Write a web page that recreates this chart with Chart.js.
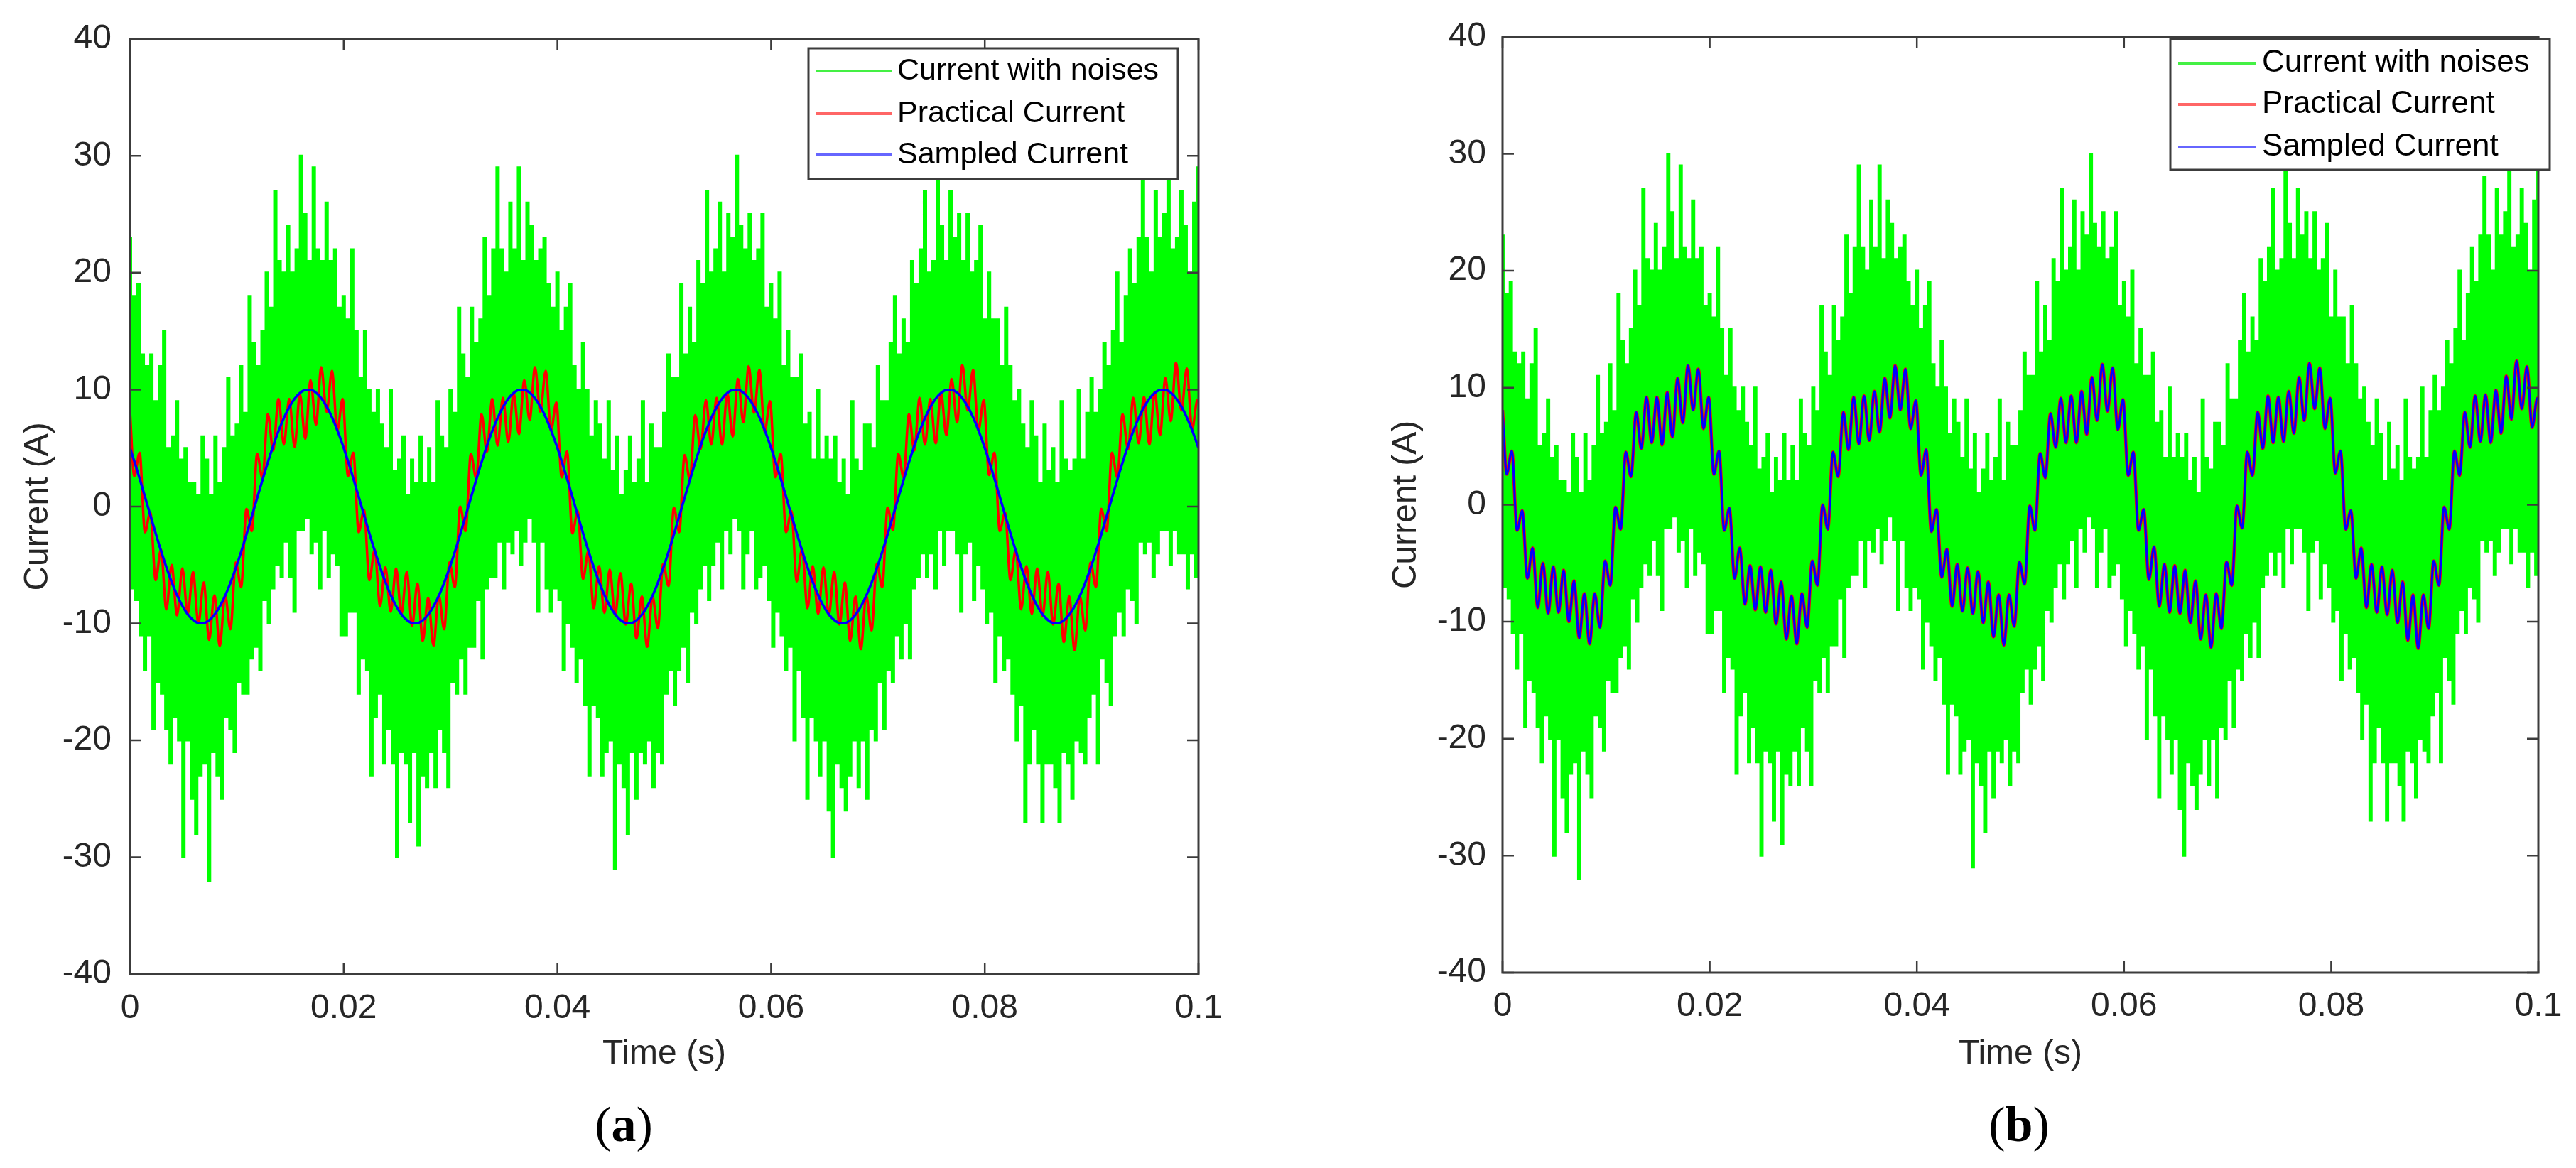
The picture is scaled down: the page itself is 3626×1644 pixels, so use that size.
<!DOCTYPE html>
<html>
<head>
<meta charset="utf-8">
<script src="https://cdn.jsdelivr.net/npm/chart.js@4/dist/chart.umd.min.js"></script>
<style>
  html, body { margin: 0; padding: 0; background: #fff; width: 3626px; height: 1644px; overflow: hidden; }
  canvas { position: absolute; top: 0; }
  #chartA { left: 0; }
  #chartB { left: 1800px; }
  .panel { position: absolute; top: 1543px; width: 200px; text-align: center; line-height: 80px;
           font-family: 'Liberation Serif', 'Times New Roman', serif; font-size: 70px; color: #000; }
  .panel b { font-weight: bold; }
</style>
</head>
<body>
<canvas id="chartA" width="1800" height="1644"></canvas>
<canvas id="chartB" width="1826" height="1644"></canvas>
<div class="panel" style="left:778px">(<b>a</b>)</div>
<div class="panel" style="left:2742px">(<b>b</b>)</div>
<script>
// ---------------- data ----------------
const X_TICK_VALUES = [0, 0.02, 0.04, 0.06, 0.08, 0.1];
const X_TICK_LABELS = ['0', '0.02', '0.04', '0.06', '0.08', '0.1'];
const Y_TICK_VALUES = [-40, -30, -20, -10, 0, 10, 20, 30, 40];
const Y_TICK_LABELS = ['-40', '-30', '-20', '-10', '0', '10', '20', '30', '40'];
const SERIES_NAMES = ['Current with noises', 'Practical Current', 'Sampled Current'];
const X_TITLE = 'Time (s)';
const Y_TITLE = 'Current (A)';

// noisy current, one sample every 0.2 ms from t = 0 to t = 0.1 s
const NOISE_DT = 0.0002;
const currentWithNoises = [
23,-7,18,-8,19,-11,13,-14,12,-11,
13,-19,9,-15,12,-16,15,-19,5,-22,
6,-18,9,-20,4,-30,5,-20,2,-25,
2,-28,1,-23,6,-22,4,-32,1,-21,
6,-23,2,-25,5,-18,11,-19,6,-21,
7,-15,12,-16,8,-16,18,-13,14,-12,
12,-14,15,-8,20,-10,17,-7,27,-5,
21,-6,20,-3,24,-6,20,-9,22,-2,
30,-2,25,-1,21,-4,29,-3,22,-7,
21,-2,26,-6,21,-4,22,-5,17,-11,
18,-11,16,-9,22,-9,15,-16,11,-13,
15,-14,10,-23,8,-18,10,-16,7,-22,
5,-19,10,-22,3,-30,4,-21,6,-22,
1,-27,4,-21,2,-29,6,-23,2,-24,
5,-21,2,-24,9,-19,6,-21,5,-24,
10,-15,8,-16,17,-13,13,-16,11,-12,
17,-12,14,-8,16,-13,23,-7,18,-6,
22,-6,29,-3,22,-7,20,-3,26,-4,
22,-2,29,-5,21,-3,26,-1,24,-3,
21,-9,22,-3,23,-7,19,-9,17,-7,
20,-8,15,-14,17,-10,19,-12,12,-15,
10,-13,14,-17,10,-23,6,-17,9,-18,
7,-23,4,-21,9,-20,3,-31,6,-22,
1,-24,3,-28,6,-21,2,-25,4,-21,
9,-22,2,-20,7,-24,5,-21,5,-22,
8,-16,13,-14,11,-17,11,-14,19,-12,
13,-15,17,-9,14,-10,21,-7,19,-5,
27,-8,20,-5,22,-3,26,-7,20,-2,
25,-4,23,-1,30,-2,24,-7,22,-4,
25,-2,21,-7,22,-6,25,-5,17,-8,
19,-12,16,-9,20,-11,12,-14,15,-12,
11,-20,11,-14,13,-18,7,-25,8,-18,
4,-20,10,-23,4,-20,6,-26,4,-30,
6,-22,2,-24,4,-26,1,-23,9,-20,
4,-24,3,-20,7,-25,7,-19,5,-20,
12,-15,9,-19,9,-14,14,-15,18,-11,
13,-13,16,-10,14,-13,21,-7,19,-6,
22,-4,27,-6,20,-4,21,-7,29,-2,
24,-5,21,-2,27,-2,23,-4,25,-9,
21,-4,25,-3,20,-8,21,-5,24,-7,
16,-10,20,-9,16,-15,16,-11,12,-14,
17,-13,12,-16,9,-20,10,-17,7,-27,
5,-22,9,-19,6,-22,2,-27,7,-22,
3,-22,5,-24,2,-27,9,-21,4,-22,
3,-25,4,-20,10,-21,4,-22,8,-18,
11,-16,8,-22,10,-13,14,-15,12,-17,
15,-11,20,-9,14,-11,18,-7,22,-8,
19,-10,23,-3,28,-4,23,-3,20,-6,
27,-4,23,-2,25,-2,30,-5,22,-2,
23,-4,27,-4,24,-7,20,-4,26,-6,
29
];

// practical / sampled currents: value at t = 0, then at 0.4 ms + k*0.5 ms (ripple extrema), then at t = 0.1 s
const RIPPLE_T0 = 0.0004;
const RIPPLE_DT = 0.0005;
const practicalCurrent = [
8.1,
2.6,4.6,-2.2,-0.5,-6.3,-3.7,-8.8,-5.0,-9.3,-5.3,-9.2,-5.6,-10.0,-6.5,-11.4,-7.6,-11.9,-7.6,-10.5,-4.8,
-6.9,-0.2,-2.1,4.5,2.4,7.9,4.8,9.2,5.3,9.2,5.1,9.6,5.8,10.8,7.0,11.9,8.1,11.6,6.5,9.2,
2.6,4.6,-2.2,-0.3,-6.3,-3.7,-8.5,-5.2,-9.0,-5.3,-9.2,-5.6,-10.2,-6.6,-11.5,-7.8,-11.9,-7.6,-10.5,-4.8,
-6.9,0.0,-2.1,4.5,2.4,7.9,4.7,9.2,5.2,9.3,5.5,9.7,6.2,10.8,7.4,11.9,8.1,11.6,6.5,8.9,
2.5,4.7,-2.3,-0.4,-6.2,-3.8,-8.7,-5.1,-9.1,-5.4,-9.3,-5.7,-10.1,-6.6,-11.3,-7.7,-12.0,-7.7,-10.4,-4.9,
-6.8,-0.1,-2.2,4.4,2.3,7.8,4.9,9.1,5.3,9.3,5.3,9.7,6.0,10.9,7.2,12.0,8.0,11.7,6.4,9.0,
2.5,4.5,-2.2,-0.4,-6.4,-3.6,-8.7,-5.1,-9.2,-5.2,-9.3,-5.6,-10.1,-6.5,-11.5,-7.7,-12.2,-7.6,-10.6,-4.9,
-6.9,-0.1,-2.0,4.5,2.5,7.9,4.8,9.3,5.3,9.2,5.4,9.7,6.1,10.9,7.2,12.1,8.2,11.7,6.5,9.1,
2.7,4.6,-2.1,-0.5,-6.3,-3.7,-8.8,-5.1,-9.2,-5.3,-9.4,-5.6,-10.1,-6.6,-11.6,-7.7,-12.3,-7.7,-10.6,-4.8,
-6.9,-0.2,-2.1,4.6,2.5,7.9,4.9,9.3,5.4,9.4,5.3,9.8,6.1,11.0,7.3,12.3,8.2,11.8,6.6,9.1,
9.0
];
const sampledCurrentA = [
5.0,
3.88,2.39,0.84,-0.73,-2.28,-3.78,-5.18,-6.46,-7.57,-8.5,-9.22,-9.71,-9.96,-9.97,-9.74,-9.26,-8.55,-7.64,-6.53,-5.27,
-3.88,-2.39,-0.84,0.73,2.28,3.78,5.18,6.46,7.57,8.5,9.22,9.71,9.96,9.97,9.74,9.26,8.55,7.64,6.53,5.27,
3.88,2.39,0.84,-0.73,-2.28,-3.78,-5.18,-6.46,-7.57,-8.5,-9.22,-9.71,-9.96,-9.97,-9.74,-9.26,-8.55,-7.64,-6.53,-5.27,
-3.88,-2.39,-0.84,0.73,2.28,3.78,5.18,6.46,7.57,8.5,9.22,9.71,9.96,9.97,9.74,9.26,8.55,7.64,6.53,5.27,
3.88,2.39,0.84,-0.73,-2.28,-3.78,-5.18,-6.46,-7.57,-8.5,-9.22,-9.71,-9.96,-9.97,-9.74,-9.26,-8.55,-7.64,-6.53,-5.27,
-3.88,-2.39,-0.84,0.73,2.28,3.78,5.18,6.46,7.57,8.5,9.22,9.71,9.96,9.97,9.74,9.26,8.55,7.64,6.53,5.27,
3.88,2.39,0.84,-0.73,-2.28,-3.78,-5.18,-6.46,-7.57,-8.5,-9.22,-9.71,-9.96,-9.97,-9.74,-9.26,-8.55,-7.64,-6.53,-5.27,
-3.88,-2.39,-0.84,0.73,2.28,3.78,5.18,6.46,7.57,8.5,9.22,9.71,9.96,9.97,9.74,9.26,8.55,7.64,6.53,5.27,
3.88,2.39,0.84,-0.73,-2.28,-3.78,-5.18,-6.46,-7.57,-8.5,-9.22,-9.71,-9.96,-9.97,-9.74,-9.26,-8.55,-7.64,-6.53,-5.27,
-3.88,-2.39,-0.84,0.73,2.28,3.78,5.18,6.46,7.57,8.5,9.22,9.71,9.96,9.97,9.74,9.26,8.55,7.64,6.53,5.27,
5.0
];
// in panel (b) the sampled current follows the practical current
const sampledCurrentB = practicalCurrent;

// ---------------- helpers ----------------
const noiseTimes = currentWithNoises.map((_, i) => +(i * NOISE_DT).toFixed(4));
const sampleTimes = [0].concat(
  Array.from({ length: practicalCurrent.length - 2 }, (_, k) => +(RIPPLE_T0 + k * RIPPLE_DT).toFixed(4)),
  [0.1]
);
const toPoints = (ts, vs) => vs.map((v, i) => ({ x: ts[i], y: v }));

const FONT = "'Liberation Sans', Arial, Helvetica, sans-serif";
const TEXT_COLOR = '#262626';
const AXIS_COLOR = '#3c3c3c';

const framePlugin = {
  id: 'frame',
  afterDatasetsDraw(chart) {
    const { ctx, chartArea: a, scales: { x, y } } = chart;
    ctx.save();
    ctx.strokeStyle = AXIS_COLOR;
    ctx.lineWidth = 2.5;
    ctx.beginPath();
    X_TICK_VALUES.forEach(v => {
      const px = x.getPixelForValue(v);
      ctx.moveTo(px, a.bottom); ctx.lineTo(px, a.bottom - 16);
      ctx.moveTo(px, a.top); ctx.lineTo(px, a.top + 16);
    });
    Y_TICK_VALUES.forEach(v => {
      const py = y.getPixelForValue(v);
      ctx.moveTo(a.left, py); ctx.lineTo(a.left + 16, py);
      ctx.moveTo(a.right, py); ctx.lineTo(a.right - 16, py);
    });
    ctx.stroke();
    ctx.lineWidth = 3;
    ctx.strokeRect(a.left, a.top, a.right - a.left, a.bottom - a.top);
    ctx.restore();
  },
  afterDraw(chart, args, o) {
    const ctx = chart.ctx;
    ctx.save();
    ctx.fillStyle = '#ffffff';
    ctx.fillRect(o.x, o.y, o.w, o.h);
    ctx.strokeStyle = AXIS_COLOR;
    ctx.lineWidth = 3;
    ctx.strokeRect(o.x, o.y, o.w, o.h);
    ctx.font = o.size + 'px ' + FONT;
    ctx.textBaseline = 'middle';
    ctx.textAlign = 'left';
    chart.data.datasets.forEach((ds, i) => {
      const yy = o.y + o.rows[i];
      ctx.strokeStyle = ds.legendColor;
      ctx.lineWidth = 4;
      ctx.beginPath();
      ctx.moveTo(o.x + o.l0, yy);
      ctx.lineTo(o.x + o.l1, yy);
      ctx.stroke();
      ctx.fillStyle = '#000000';
      ctx.fillText(ds.label, o.x + o.tx, yy);
    });
    ctx.restore();
  }
};

function makeDatasets(redValues, blueValues, redWidth, blueWidth) {
  return [
    { label: SERIES_NAMES[0], data: toPoints(noiseTimes, currentWithNoises),
      borderColor: '#00ff00', legendColor: '#44f044', borderWidth: 3, pointRadius: 0,
      stepped: 'middle', order: 3 },
    { label: SERIES_NAMES[1], data: toPoints(sampleTimes, redValues),
      borderColor: '#ff0000', legendColor: '#ff6666', borderWidth: redWidth, pointRadius: 0,
      cubicInterpolationMode: 'monotone', order: 2 },
    { label: SERIES_NAMES[2], data: toPoints(sampleTimes, blueValues),
      borderColor: '#0000ff', legendColor: '#6666ff', borderWidth: blueWidth, pointRadius: 0,
      cubicInterpolationMode: 'monotone', order: 1 }
  ];
}

function makeChart(id, geo, datasets, legendBox) {
  return new Chart(document.getElementById(id), {
    type: 'line',
    data: { datasets },
    options: {
      responsive: false, animation: false, devicePixelRatio: 1, events: [],
      layout: { padding: { left: 0, top: geo.top, right: geo.right, bottom: geo.bottom } },
      plugins: { legend: { display: false }, tooltip: { enabled: false }, frame: legendBox },
      scales: {
        x: {
          type: 'linear', min: 0, max: 0.1,
          afterBuildTicks: s => { s.ticks = X_TICK_VALUES.map(v => ({ value: v })); },
          afterFit: s => { s.height = geo.xh; },
          grid: { display: false, drawTicks: false }, border: { display: false },
          ticks: { padding: geo.xtp, maxRotation: 0, autoSkip: false, color: TEXT_COLOR,
                   font: { family: FONT, size: 48 }, callback: (v, i) => X_TICK_LABELS[i] },
          title: { display: true, text: X_TITLE, color: TEXT_COLOR, font: { family: FONT, size: 48 },
                   padding: { top: 0, bottom: geo.xtitle } }
        },
        y: {
          type: 'linear', min: -40, max: 40,
          afterBuildTicks: s => { s.ticks = Y_TICK_VALUES.map(v => ({ value: v })); },
          afterFit: s => { s.width = geo.yw; },
          grid: { display: false, drawTicks: false }, border: { display: false },
          ticks: { padding: geo.ytp, autoSkip: false, color: TEXT_COLOR,
                   font: { family: FONT, size: 48 }, callback: (v, i) => Y_TICK_LABELS[i] },
          title: { display: true, text: Y_TITLE, color: TEXT_COLOR, font: { family: FONT, size: 48 },
                   padding: { top: geo.ytitle, bottom: 0 } }
        }
      }
    },
    plugins: [framePlugin]
  });
}

makeChart('chartA',
  { top: 39, right: 113, bottom: 113, xh: 160, yw: 183, xtp: 20, ytp: 26, xtitle: 18, ytitle: 25 },
  makeDatasets(practicalCurrent, sampledCurrentA, 3.5, 3.5),
  { x: 1138, y: 68, w: 520, h: 184, l0: 10, l1: 117, tx: 125, rows: [32, 92, 150], size: 43 });

makeChart('chartB',
  { top: 41, right: 53, bottom: 115, xh: 160, yw: 315, xtp: 19, ytp: 23, xtitle: 16, ytitle: 151 },
  makeDatasets(practicalCurrent, sampledCurrentB, 4.5, 3),
  { x: 1255, y: 55, w: 534, h: 184, l0: 11, l1: 121, tx: 129, rows: [34, 92, 152], size: 44 });
</script>
</body>
</html>
